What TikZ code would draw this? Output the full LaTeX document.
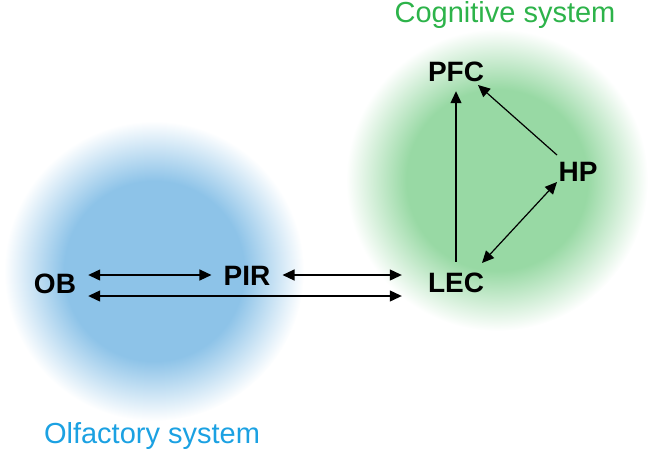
\documentclass[tikz,border=0pt]{standalone}
\usepackage{fontspec}
\setmainfont{Liberation Sans}
\usetikzlibrary{arrows.meta}
\definecolor{olfblue}{HTML}{8DC3E8}
\definecolor{coggreen}{HTML}{98D9A4}
\definecolor{olftext}{HTML}{1BA1E2}
\definecolor{cogtext}{HTML}{2DB34A}
\pgfdeclareradialshading{olfshade}{\pgfpoint{0bp}{0bp}}{color(0bp)=(olfblue); color(15bp)=(olfblue); color(25bp)=(white); color(50bp)=(white)}
\pgfdeclareradialshading{cogshade}{\pgfpoint{0bp}{0bp}}{color(0bp)=(coggreen); color(15bp)=(coggreen); color(25bp)=(white); color(50bp)=(white)}
\tikzset{
  region/.style={inner sep=0pt, anchor=base, font=\fontsize{29}{34}\selectfont},
  area/.style={inner xsep=12pt, inner ysep=10pt, text height=20pt, text depth=0pt, font=\fontsize{28}{32}\selectfont\bfseries},
  link/.style={{Triangle[length=12pt,width=11pt]}-{Triangle[length=12pt,width=11pt]}, line width=1.2pt},
  feed/.style={-{Triangle[length=12pt,width=11pt]}, line width=1.2pt}
}
\begin{document}
\begin{tikzpicture}[x=1pt, y=-1pt]
\useasboundingbox (0,0) rectangle (651,448);
% system blobs
\shade[shading=olfshade] (154,271) circle (150pt);
\shade[shading=cogshade] (497,180) circle (151pt);

\node[region, text=cogtext] (cog) at (505,22) {Cognitive system};
\node[region, text=olftext] (olf) at (152,443) {Olfactory system};

% brain areas
\node[area] (OB) at (55,283) {OB};
\node[area] (PIR) at (247,275) {PIR};
\node[area] (LEC) at (456,282) {LEC};
\node[area] (PFC) at (456,71) {PFC};
\node[area] (HP) at (578,171) {HP};

\draw[link] (OB.east |- PIR.west) -- (PIR.west);
\draw[link] (PIR.east) -- ([xshift=-14pt]PIR.east -| LEC.west);
\draw[link] ([yshift=-13pt]OB.east) -- ([xshift=-14pt,yshift=-13pt]OB.east -| LEC.west);
\draw[feed] (LEC.north) -- (PFC.south);
\draw[feed] ([xshift=-21pt,yshift=16pt]HP.center) -- ([xshift=22pt,yshift=-14pt]PFC.center);
\draw[link] ([xshift=26pt,yshift=19pt]LEC.center) -- ([xshift=-21pt,yshift=-11pt]HP.center);
\end{tikzpicture}
\end{document}
